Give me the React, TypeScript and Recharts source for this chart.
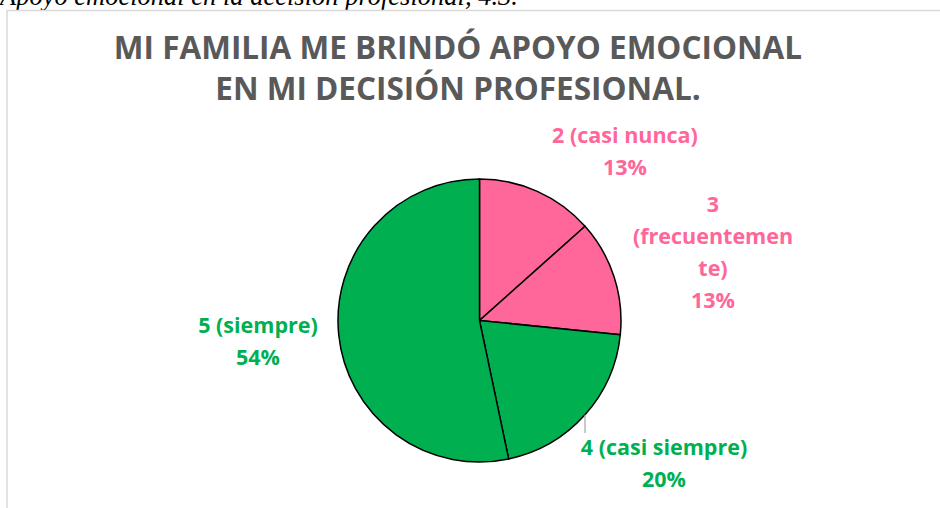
import { PieChart, Pie, Cell } from 'recharts';

const categories = ['2 (casi nunca)', '3 (frecuentemente)', '4 (casi siempre)', '5 (siempre)'];
// slice shares, printed percentages below
const shares = [13.4, 13.2, 20.1, 53.3];
const percentLabels = ['13%', '13%', '20%', '54%'];
const wrappedNames = [['2 (casi nunca)'], ['3', '(frecuentemen', 'te)'], ['4 (casi siempre)'], ['5 (siempre)']];
const sliceColors = ['#FF6699', '#FF6699', '#00B050', '#00B050'];

const data = categories.map((name, i) => ({ name, value: shares[i] }));

const W = 940;
const H = 508;
const CX = 479.5;
const CY = 320.5;
const R = 141.5;
const LINE_H = 32;
const FONT = '"Open Sans", Lato, sans-serif';

// label block placement relative to the pie centre (first baseline)
const labelOffsets = [
  { dx: 145.5, dy: -177.5 },
  { dx: 233.5, dy: -108.5 },
  { dx: 184.5, dy: 134.5 },
  { dx: -221.5, dy: 12.5 },
];

function renderLabel(props: any) {
  const { cx, cy, index } = props;
  const off = labelOffsets[index];
  const lines = [...wrappedNames[index], percentLabels[index]];
  const x = cx + off.dx;
  const y = cy + off.dy;
  let leader = null;
  if (index === 2) {
    const lx = cx + 105.5;
    const ly = cy + Math.sqrt(R * R - 105.5 * 105.5);
    leader = <line x1={lx} y1={ly} x2={lx} y2={y - 22} stroke="#A6A6A6" strokeWidth={1.2} />;
  }
  return (
    <g key={`lbl-${index}`}>
      {leader}
      <text
        x={x}
        y={y}
        textAnchor="middle"
        fill={sliceColors[index]}
        fontFamily={FONT}
        fontWeight={700}
        fontSize={21.5}
      >
        {lines.map((l, i) => (
          <tspan key={i} x={x} y={y + i * LINE_H}>
            {l}
          </tspan>
        ))}
      </text>
    </g>
  );
}

export default function App() {
  return (
    <div style={{ position: 'absolute', left: 0, top: 0, width: W, height: H, overflow: 'hidden', background: '#fff' }}>
      <svg width={W} height={H} style={{ position: 'absolute', left: 0, top: 0 }}>
        <text x={0} y={5} fontFamily='"Liberation Serif", "Times New Roman", serif' fontStyle="italic" fontSize={26.5} fill="#000">
          Apoyo emocional en la decisión profesional, 4.3.
        </text>
        <rect x={7} y={10.5} width={W + 20} height={H + 20} fill="none" stroke="#D9D9D9" strokeWidth={1.5} />
        <text textAnchor="middle" fontFamily={FONT} fontWeight={700} fontSize={31.5} fill="#595959">
          <tspan x={458} y={59}>MI FAMILIA ME BRINDÓ APOYO EMOCIONAL</tspan>
          <tspan x={458} y={100}>EN MI DECISIÓN PROFESIONAL.</tspan>
        </text>
      </svg>
      <div style={{ position: 'absolute', left: 0, top: 0 }}>
        <PieChart width={W} height={H} margin={{ top: 0, right: 0, bottom: 0, left: 0 }}>
          <Pie
            data={data}
            dataKey="value"
            nameKey="name"
            cx={CX}
            cy={CY}
            outerRadius={R}
            startAngle={90}
            endAngle={-270}
            stroke="#000"
            strokeWidth={1.5}
            label={renderLabel}
            labelLine={false}
            isAnimationActive={false}
          >
            {data.map((d, i) => (
              <Cell key={d.name} fill={sliceColors[i]} />
            ))}
          </Pie>
        </PieChart>
      </div>
    </div>
  );
}
